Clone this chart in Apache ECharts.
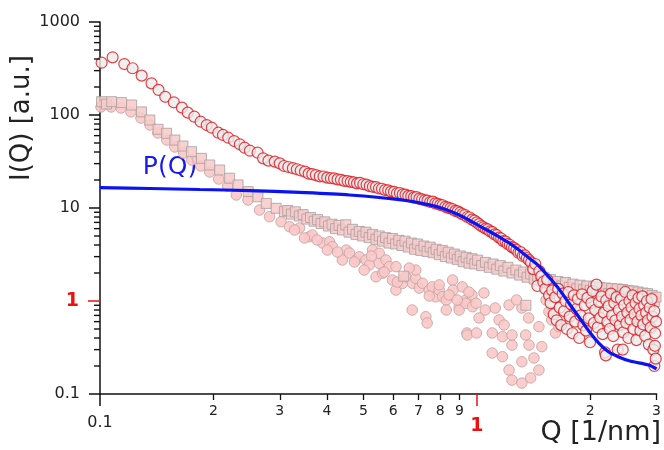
<!DOCTYPE html>
<html><head><meta charset="utf-8">
<script src="https://cdn.jsdelivr.net/npm/echarts@6/dist/echarts.min.js"></script>
<style>html,body{margin:0;padding:0;background:#fff}#c{width:664px;height:450px}</style>
</head><body><div id="c"></div>
<script>
// ---- measured data (red open circles) ----
const redQ = [0.101,0.108,0.116,0.122,0.129,0.137,0.143,0.149,0.157,0.165,0.171,0.178,0.185,0.192,0.198,0.206,0.212,0.219,0.227,0.235,0.242,0.250,0.262,0.271,0.280,0.291,0.300,0.308,
0.316,0.325,0.333,0.341,0.350,0.358,0.366,0.374,0.383,0.392,0.401,0.410,0.418,0.427,0.436,0.445,0.454,0.463,0.472,0.481,0.490,0.500,0.510,0.520,0.530,0.540,0.550,0.560,0.571,0.582,0.592,0.603,0.614,0.625,0.636,0.647,0.658,0.670,0.681,0.692,0.704,0.716,0.728,0.740,0.752,0.764,0.776,0.788,0.800,0.812,0.825,0.838,0.851,0.864,0.877,0.890,0.903,0.916,0.930,0.944,0.958,0.972,0.986,1.000,
1.014,1.028,1.042,1.056,1.070,1.085,1.100,1.115,1.130,1.146,1.161,1.176,1.192,1.208,1.224,1.240,1.257,1.274,1.290,1.307,1.324,1.341,1.358,1.376,1.394,1.412,1.430,1.448,1.466,1.484,1.502,1.520,1.538,1.556,
1.57,1.585,1.60,1.615,1.63,1.645,1.66,1.675,1.69,1.705,1.72,1.735,1.75,1.765,1.78,1.795,1.81,1.825,1.84,1.855,1.87,1.886,1.902,1.918,1.934,1.95,1.966,1.982,1.998,2.014,2.03,2.046,2.062,2.078,2.094,2.11,2.126,2.142,2.158,2.174,2.19,2.206,2.222,2.238,2.254,2.27,2.286,2.302,2.318,2.334,2.35,2.366,2.382,2.398,2.414,2.43,2.446,2.462,2.478,2.494,2.51,2.526,2.542,2.558,2.574,2.59,2.606,2.622,2.638,2.654,2.67,2.686,2.702,2.718,2.734,2.75,2.766,2.782,2.798,2.814,2.83,2.846,2.862,2.878,2.894,2.91,2.926,2.942,2.958,2.974,2.99,
2.20,2.44,2.96,2.985,2.97];
const redI = [365,417,353,318,265,219,186,157,137,120,106,95.9,84.7,78,73,64.5,61,57,52.5,48.4,44.5,41.3,39.3,34.2,32.3,31.5,30.2,28.3,
27.6,26.8,26.1,25.3,24.6,23.4,23.1,22.6,21.9,21.8,21.2,20.9,20.8,20.3,20.1,19.6,19.5,19.1,18.9,18.4,18.6,18.0,17.8,17.2,16.9,16.8,16.2,16.1,15.6,15.5,15.0,14.9,14.4,14.5,14.0,13.9,13.5,13.4,13.0,13.1,12.6,12.4,12.1,12.0,11.6,11.7,11.2,11.1,10.8,10.7,10.3,10.1,9.9,9.7,9.3,9.2,8.9,8.6,8.4,8.0,7.9,7.5,7.3,7.0,
6.7,6.4,6.2,6.0,5.9,5.6,5.5,5.2,5.1,4.8,4.7,4.4,4.35,4.1,4.0,3.8,3.7,3.55,3.3,3.35,3.05,3.1,2.9,2.75,2.6,2.2,2.5,1.45,2.1,1.85,1.6,1.35,1.7,1.15,
0.95,1.30,0.72,1.10,0.62,1.35,0.85,0.55,1.20,0.78,1.00,0.50,1.25,0.68,0.92,0.45,1.15,0.60,0.82,1.05,0.40,0.70,1.18,0.55,0.90,0.48,1.08,0.65,0.36,0.95,1.28,0.58,0.80,1.50,0.52,0.98,0.66,1.12,0.44,0.75,0.28,1.02,0.60,0.88,0.50,1.20,0.70,0.42,0.95,0.62,1.10,0.30,0.80,0.55,1.05,0.68,0.46,0.90,1.25,0.58,0.75,0.40,1.00,0.63,0.85,1.15,0.50,0.72,0.95,0.38,0.60,1.08,0.82,0.48,0.70,1.12,0.56,0.90,0.42,0.75,1.00,0.62,0.34,0.85,0.52,1.05,0.68,0.30,0.78,0.45,0.60,
0.26,0.30,0.20,0.24,0.33];

// ---- pink squares ----
const sqQ = [0.101,0.104,0.1074,0.1141,0.1213,0.1289,0.1356,0.1426,0.1502,0.158,0.166,0.1749,0.1859,0.1955,0.2078,0.2208,0.2325,0.2473,0.2625,0.2763,0.2935,0.3086,
0.315,0.322,0.330,0.338,0.346,0.354,0.362,0.370,0.378,0.386,0.395,0.404,0.413,0.422,0.431,0.440,0.449,0.458,0.468,0.478,0.488,0.498,0.508,0.518,0.529,0.540,0.551,0.562,0.573,0.585,0.597,0.609,0.621,0.633,0.645,0.658,0.671,0.684,0.697,0.710,0.724,0.738,0.752,0.766,0.780,0.795,0.810,0.825,0.840,0.856,0.872,0.888,0.904,0.920,0.937,0.954,0.971,0.988,1.005,
1.03,1.055,1.08,1.105,1.13,1.155,1.18,1.21,1.24,1.27,1.30,1.33,1.36,1.39,1.42,1.45,1.48,1.51,1.54,1.57,1.60,1.64,1.68,1.72,1.76,1.80,1.84,1.88,1.92,1.96,2.00,2.04,2.08,2.12,2.16,2.20,2.24,2.28,2.32,2.36,2.40,2.44,2.48,2.52,2.56,2.60,2.64,2.68,2.72,2.76,2.80,2.84,2.88,2.92,2.96,2.99,
1.35,0.64];
const sqI = [139,131,139,136,128,108,88.3,70.2,63.6,53.8,46.4,40.3,34.2,29.0,25.6,20.9,17.7,15.0,13.2,11.2,9.93,9.13,
9.4,8.6,9.1,8.2,8.5,7.6,7.9,7.2,7.5,6.8,7.1,6.4,6.7,6.0,6.5,5.8,6.6,5.5,5.9,5.2,5.6,5.0,5.5,4.8,5.2,4.6,5.0,4.4,4.8,4.2,4.7,4.1,4.5,3.95,4.4,3.8,4.2,3.6,4.1,3.5,3.9,3.4,3.8,3.3,3.6,3.15,3.5,3.0,3.35,2.9,3.2,2.8,3.05,2.65,2.95,2.55,2.85,2.5,2.75,
2.4,2.6,2.3,2.5,2.2,2.4,2.1,2.3,2.0,2.15,1.9,2.05,1.8,1.95,1.72,1.85,1.65,1.78,1.55,1.7,1.5,1.62,1.45,1.58,1.4,1.52,1.35,1.48,1.32,1.45,1.3,1.42,1.25,1.4,1.22,1.38,1.2,1.36,1.18,1.35,1.15,1.33,1.12,1.3,1.1,1.28,1.08,1.25,1.05,1.22,1.02,1.2,1.0,1.15,0.98,1.1,
0.9,1.85];

// ---- pink circles ----
const pinkQ = [0.1006,0.107,0.1137,0.1208,0.1284,0.1357,0.1424,0.1504,0.158,0.1668,0.1752,0.1851,0.1955,0.2065,0.2182,0.23,0.247,0.2651,0.2819,0.3024,
0.3184,0.3385,0.3597,0.366,0.3896,0.4067,0.4139,0.4397,0.4506,0.4592,0.478,0.488,0.508,0.5187,0.529,0.5402,0.551,0.551,0.562,0.574,0.586,0.597,0.6102,0.6102,0.635,0.6483,0.6741,0.675,0.6888,0.689,0.7036,0.718,0.7326,0.7384,0.7482,0.762,0.7776,0.7947,0.8113,0.8299,0.8299,0.8629,0.865,0.898,0.898,0.9152,0.9356,0.9356,0.9413,0.9434,0.9712,0.9745,0.9958,0.998,
1.0447,1.0532,1.099,1.099,1.1195,1.146,1.17,1.17,1.218,1.218,1.24,1.24,1.24,1.317,1.317,1.317,1.348,1.376,1.39,1.418,1.462,1.462,1.488,1.554,1.581,1.617,1.651,1.75,1.9,2.1,2.3,2.5,2.7,2.9,
0.3284,0.3489,0.377,0.4012,0.427,0.4735,0.5025,0.525,0.5679,0.6152,0.6619,0.7482,0.7947,0.8443,0.8876,0.9528,1.014,1.1815,1.2755,1.3726,1.5267];
const pinkI = [122,122,119,108,92.8,78,64,53.8,45.3,39,32.8,28.3,24.4,20.5,17.2,13.8,12.2,9.52,8.06,7.12,
6.29,6.10,4.91,5.13,4.21,4.34,3.84,2.76,3.53,3.28,2.76,2.99,2.76,2.44,3.53,1.82,2.54,3.26,1.99,2.76,2.34,1.68,1.31,2.34,1.55,1.82,0.80,1.55,1.75,2.15,1.38,1.55,0.678,0.58,1.31,1.42,1.11,1.31,1.11,1.025,0.80,1.68,1.31,0.868,0.80,1.42,1.025,0.945,0.453,0.431,1.16,0.868,0.945,0.453,
1.22,0.80,0.453,0.276,0.841,0.625,0.252,0.413,0.906,0.181,0.336,0.431,0.141,0.841,0.222,0.131,0.431,0.336,0.149,0.244,0.529,0.181,0.323,0.767,0.625,0.453,0.529,0.7,0.6,0.75,0.55,0.65,0.6,0.5,
5.80,4.76,4.53,3.53,3.36,2.63,2.15,3.05,2.05,1.60,2.26,1.13,1.49,1.16,1.025,1.25,0.657,0.552,1.025,0.657,1.025];

// ---- P(Q) model curve ----
const fitQ = [0.1,0.1357,0.184,0.2496,0.3385,0.4592,0.623,0.7482,0.82,0.898,0.9528,1.014,1.076,1.146,1.218,1.294,1.376,1.462,1.554,1.651,1.755,1.866,1.983,2.108,2.24,2.381,2.55,2.859,3.0];
const fitI = [16.6,16.2,15.8,15.4,14.7,13.8,12.3,10.8,9.75,8.41,7.43,6.41,5.66,4.88,4.21,3.53,2.90,2.38,1.81,1.35,0.952,0.673,0.476,0.353,0.283,0.250,0.226,0.205,0.186];

// ---- axis ticks / labels ----
const xMinorTicks = [0.2,0.3,0.4,0.5,0.6,0.7,0.8,0.9,2,3];
const xMajorBlack = [0.1];
const xMajorRed = [1];
const yMajorBlack = [0.1,10,100,1000];
const yMajorRed = [1];
const yMinorTicks = [0.2,0.3,0.4,0.5,0.6,0.7,0.8,0.9,2,3,4,5,6,7,8,9,20,30,40,50,60,70,80,90,200,300,400,500,600,700,800,900];

const FONT = 'DejaVu Sans';
const zip = (a,b)=>a.map((v,i)=>[v,b[i]]);
const chart = echarts.init(document.getElementById('c'), null, {renderer:'canvas'});

function xAx(o){
  return Object.assign({type:'log', logBase:10, min:0.1, max:3, position:'bottom', offset:0,
    splitLine:{show:false}, axisLine:{show:false}, axisTick:{show:false}, axisLabel:{show:false}}, o);
}
function yAx(o){
  return Object.assign({type:'log', logBase:10, min:0.1, max:1000, position:'left', offset:0,
    splitLine:{show:false}, axisLine:{show:false}, axisTick:{show:false}, axisLabel:{show:false}}, o);
}

const texts = [
  {type:'text', x:22, y:118, rotation:Math.PI/2, style:{text:'I(Q) [a.u.]', font:'26px "DejaVu Sans"', fill:'#222', align:'center', verticalAlign:'middle', textAlign:'center', textVerticalAlign:'middle'}},
  {type:'text', x:661, y:433, style:{text:'Q [1/nm]', font:'27px "DejaVu Sans"', fill:'#222', align:'right', verticalAlign:'middle', textAlign:'right', textVerticalAlign:'middle'}},
  {type:'text', x:170, y:167, style:{text:'P(Q)', font:'25px "DejaVu Sans"', fill:'#1a1aee', align:'center', verticalAlign:'middle', textAlign:'center', textVerticalAlign:'middle'}}
];

chart.setOption({
  animation:false,
  backgroundColor:'#fff',
  grid:{left:100, right:6, top:22, bottom:56, containLabel:false},
  xAxis:[
    xAx({axisLine:{show:true, lineStyle:{color:'#111', width:1.5}},
      axisTick:{show:true, customValues:xMinorTicks, length:6, lineStyle:{color:'#111', width:1.3}},
      axisLabel:{show:true, customValues:xMinorTicks, margin:10, fontSize:14, fontFamily:FONT, color:'#222',
        formatter:v=> v<1 ? String(Math.round(v*10)) : String(Math.round(v))}}),
    xAx({axisTick:{show:true, customValues:xMajorBlack, length:12, lineStyle:{color:'#111', width:1.5}},
      axisLabel:{show:true, customValues:xMajorBlack, margin:21, fontSize:16, fontFamily:FONT, color:'#222',
        formatter:()=> '0.1'}}),
    xAx({z:5, axisTick:{show:true, customValues:xMajorRed, length:12, lineStyle:{color:'#ee1111', width:1.5}},
      axisLabel:{show:true, customValues:xMajorRed, margin:23, fontSize:19, fontWeight:'bold', fontFamily:FONT, color:'#ee1111',
        formatter:()=> '1'}})
  ],
  yAxis:[
    yAx({axisLine:{show:true, lineStyle:{color:'#111', width:1.5}},
      axisTick:{show:true, customValues:yMajorBlack, length:11, lineStyle:{color:'#111', width:1.5}},
      axisLabel:{show:true, customValues:yMajorBlack, margin:20, fontSize:16, fontFamily:FONT, color:'#222',
        formatter:v=> v<1 ? '0.1' : String(Math.round(v))}}),
    yAx({z:5, axisTick:{show:true, customValues:yMajorRed, length:12, lineStyle:{color:'#ee1111', width:1.5}},
      axisLabel:{show:true, customValues:yMajorRed, margin:21, fontSize:19, fontWeight:'bold', fontFamily:FONT, color:'#ee1111',
        formatter:()=> '1'}})
  ],
  series:[
    {type:'scatter', xAxisIndex:0, yAxisIndex:0, data:zip(pinkQ,pinkI), symbol:'circle', symbolSize:10.5, silent:true,
      itemStyle:{color:'#fbc8c8', borderColor:'#c9a6a6', borderWidth:1, opacity:0.9}},
    {type:'scatter', xAxisIndex:0, yAxisIndex:0, data:zip(sqQ,sqI), symbol:'rect', symbolSize:10, silent:true,
      itemStyle:{color:'#f8c9c9', borderColor:'#aaa2a2', borderWidth:1, opacity:0.85}},
    {type:'scatter', xAxisIndex:0, yAxisIndex:0, data:zip(redQ,redI), symbol:'circle', symbolSize:11, silent:true,
      itemStyle:{color:'#ebebeb', borderColor:'#e0141b', borderWidth:1.2}},
    {type:'line', xAxisIndex:0, yAxisIndex:0, data:zip(fitQ,fitI), smooth:0.3, showSymbol:false, silent:true,
      lineStyle:{color:'#0a14f2', width:3.2}}
  ],
  graphic: texts
});

// minor ticks of the logarithmic y axis, positioned through the chart's own y scale
const els = texts.slice();
const ax = chart.convertToPixel({xAxisIndex:0}, 0.1);
yMinorTicks.forEach(v=>{
  const py = chart.convertToPixel({yAxisIndex:0}, v);
  els.push({type:'rect', z:100, zlevel:1, silent:true, shape:{x:ax-6, y:py-0.7, width:6, height:1.4}, style:{fill:'#111'}});
});
chart.setOption({graphic: els});
</script>
</body></html>
